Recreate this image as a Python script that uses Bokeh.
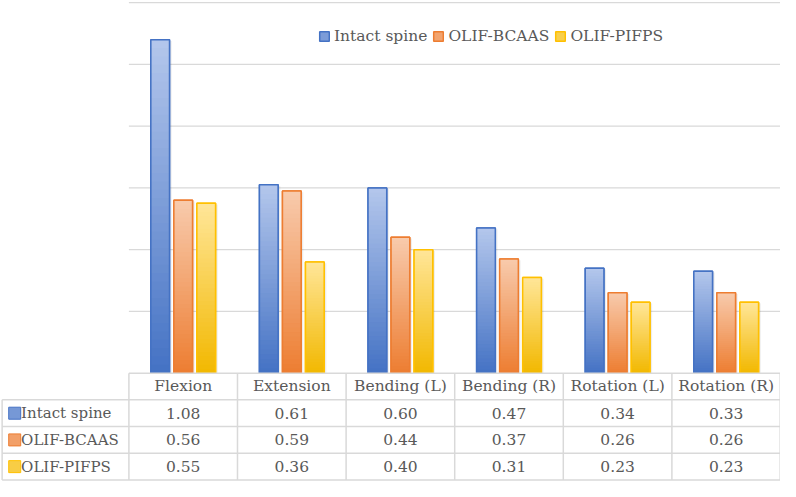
import numpy as np
from bokeh.plotting import figure
from bokeh.models import Range1d, Legend, LegendItem
from bokeh.core.properties import value
from bokeh.embed import file_html
from bokeh.resources import INLINE

# ---------------- data ----------------
categories = ["Flexion", "Extension", "Bending (L)", "Bending (R)", "Rotation (L)", "Rotation (R)"]
series_names = ["Intact spine", "OLIF-BCAAS", "OLIF-PIFPS"]
intact = [1.08, 0.61, 0.60, 0.47, 0.34, 0.33]
bcaas = [0.56, 0.59, 0.44, 0.37, 0.26, 0.26]
pifps = [0.55, 0.36, 0.40, 0.31, 0.23, 0.23]
grid_values = [0.2, 0.4, 0.6, 0.8, 1.0, 1.2]

# ---------------- style ----------------
FONT = "DejaVu Serif"
FS = "15.5px"
TXT = "#595959"
GRID = "#d9d9d9"
edge_colors = ["#4472c4", "#ed7d31", "#ffc000"]
top_colors = ["#b4c7ec", "#f8cbad", "#ffe699"]
bottom_colors = ["#4472c4", "#ed7d31", "#f2b800"]
offsets = [-0.212, 0.0, 0.212]
BAR_W = 0.172

W, H = 780, 481
LEFT = 131 / 110.8          # width of table label column in category units
ROW = 27.6 / 319            # table row height in data units
x_lo, x_hi = -LEFT, 6.0
y_lo, y_hi = -0.351, 1.207

p = figure(width=W, height=H, x_range=Range1d(x_lo, x_hi), y_range=Range1d(y_lo, y_hi),
           output_backend="svg", toolbar_location=None, min_border=0,
           outline_line_color=None, background_fill_color="white", border_fill_color="white")
p.xaxis.visible = False
p.yaxis.visible = False
p.xgrid.visible = False
p.ygrid.visible = False


def hex2rgb(h):
    h = h.lstrip("#")
    return np.array([int(h[i:i + 2], 16) for i in (0, 2, 4)], dtype=float)


def mix(c1, c2, t):
    a, b = hex2rgb(c1), hex2rgb(c2)
    c = a + (b - a) * t
    return "#%02x%02x%02x" % tuple(int(round(v)) for v in c)


# gridlines
p.segment(x0=[0] * len(grid_values), x1=[6] * len(grid_values), y0=grid_values, y1=grid_values,
          line_color=GRID, line_width=1.2)

all_series = [intact, bcaas, pifps]
x_centers = np.arange(len(categories)) + 0.5
legend_items = []
N = 40
for s, vals in enumerate(all_series):
    xs = x_centers + offsets[s]
    vals = np.array(vals)
    # shadow
    p.vbar(x=xs + 0.02, top=vals - 0.004, bottom=0, width=BAR_W, fill_color="#000000",
           fill_alpha=0.07, line_color=None)
    base = p.vbar(x=xs, top=vals, bottom=0, width=BAR_W, fill_color=mix(bottom_colors[s], top_colors[s], 0.5),
                  line_color=edge_colors[s], line_width=1.5)
    legend_items.append(LegendItem(label=series_names[s], renderers=[base]))
    # gradient slices, per bar relative to its own height
    left, right, bot, top, col = [], [], [], [], []
    for i, v in enumerate(vals):
        for k in range(N):
            t = (k + 0.5) / N
            left.append(xs[i] - BAR_W / 2)
            right.append(xs[i] + BAR_W / 2)
            bot.append(v * k / N)
            top.append(min(v, v * (k + 1.4) / N))
            col.append(mix(bottom_colors[s], top_colors[s], t))
    p.quad(left=left, right=right, bottom=bot, top=top, fill_color=col, line_color=None)
    p.vbar(x=xs, top=vals, bottom=0, width=BAR_W, fill_color=None,
           line_color=edge_colors[s], line_width=1.5)

# ---------------- data table ----------------
n_rows = 4
y_lines = [-ROW * k for k in range(n_rows + 1)]
bottom_y = y_lines[-1]
# horizontal lines
p.segment(x0=[0], x1=[6], y0=[0], y1=[0], line_color=GRID, line_width=1.5)
p.segment(x0=[-LEFT + 0.015] * n_rows, x1=[5.997] * n_rows, y0=y_lines[1:], y1=y_lines[1:],
          line_color=GRID, line_width=1.5)
# vertical lines
vx = [float(k) for k in range(6)] + [5.997]
p.segment(x0=vx, x1=vx, y0=[0] * len(vx), y1=[bottom_y] * len(vx), line_color=GRID, line_width=1.5)
p.segment(x0=[-LEFT + 0.015], x1=[-LEFT + 0.015], y0=[y_lines[1]], y1=[bottom_y], line_color=GRID, line_width=1.5)

# header
p.text(x=x_centers, y=[-ROW / 2] * len(categories), text=categories, text_font=value(FONT),
       text_font_size=FS, text_color=TXT, text_align="center", text_baseline="middle")
# values
for s, vals in enumerate(all_series):
    yc = -ROW * (s + 1.5)
    p.text(x=x_centers, y=[yc] * len(vals), text=["%.2f" % v for v in vals], text_font=value(FONT),
           text_font_size=FS, text_color=TXT, text_align="center", text_baseline="middle")
    kx = -LEFT + 14.5 / 110.8
    p.rect(x=[kx], y=[yc], width=12, height=12, width_units="screen", height_units="screen",
           fill_color=mix(bottom_colors[s], top_colors[s], 0.45), line_color=edge_colors[s], line_width=1)
    p.text(x=[-LEFT + 21 / 110.8], y=[yc], text=[series_names[s]], text_font=value(FONT),
           text_font_size="15px", text_color=TXT, text_align="left", text_baseline="middle")

legend = Legend(items=legend_items, orientation="horizontal", location=(318, 436),
                label_text_font=FONT, label_text_font_size=FS, label_text_color=TXT,
                glyph_width=12, glyph_height=12, label_standoff=4, spacing=5, padding=0, margin=0,
                border_line_alpha=0, background_fill_alpha=0)
p.add_layout(legend)

open("out.html", "w").write(file_html(p, INLINE))
